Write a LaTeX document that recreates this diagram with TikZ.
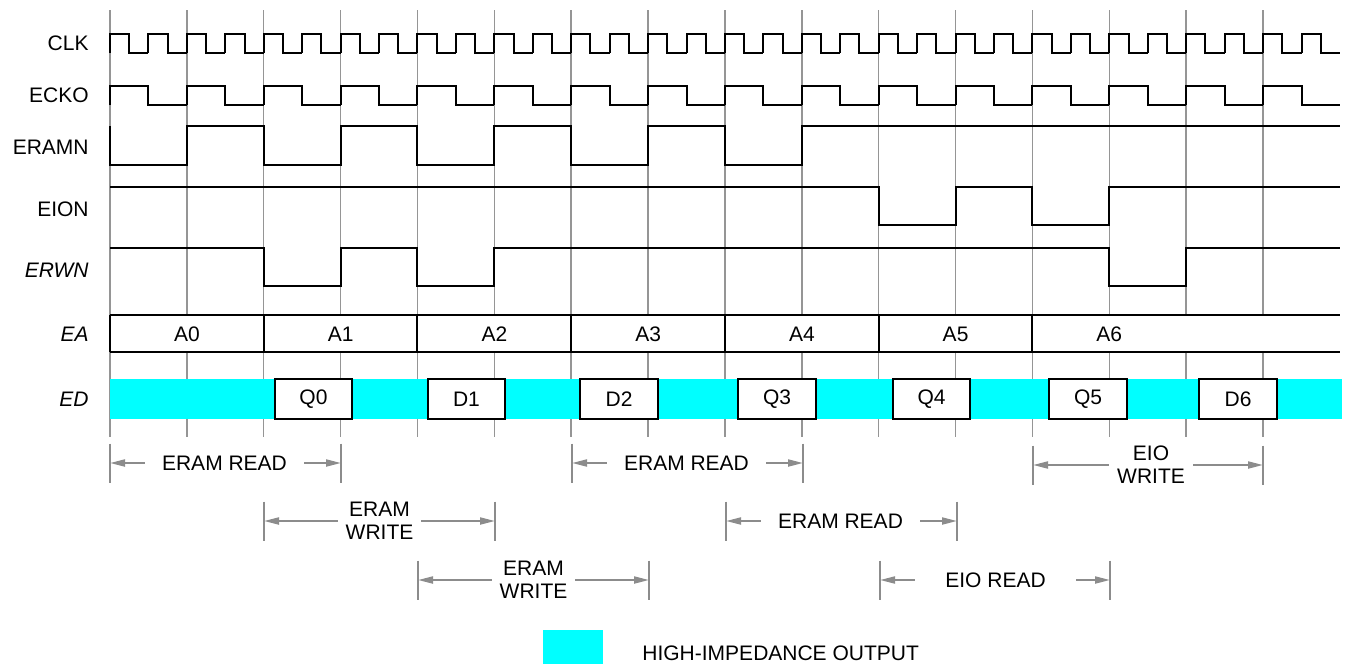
\documentclass[tikz,border=0pt]{standalone}
\usepackage{fontspec}
\setmainfont{Liberation Sans}
\usetikzlibrary{arrows.meta}
\definecolor{HiZCyan}{HTML}{00FFFF}
\definecolor{GridGray}{HTML}{959595}
\definecolor{DimGray}{HTML}{8C8C8C}
\tikzset{
    % Signal styles
    sig/.style={
        draw=black,
        line width=1pt
    },
    gridline/.style={
        draw=GridGray,
        line width=0.75pt
    },
    siglabel/.style={
        anchor=east,
        inner sep=0pt,
        font=\fontsize{10.5}{12}\selectfont
    },
    buslabel/.style={
        inner sep=0pt,
        font=\fontsize{10.5}{12}\selectfont
    },
    databox/.style={
        rectangle,
        draw=black,
        fill=white,
        line width=0.8pt,
        minimum width=38.75pt,
        minimum height=19.75pt,
        inner sep=0pt,
        font=\fontsize{10.5}{12}\selectfont
    },
    hizbox/.style={
        rectangle,
        fill=HiZCyan,
        minimum width=30pt,
        minimum height=17pt,
        inner sep=0pt
    },
    % Dimension styles
    dimtext/.style={
        inner ysep=0pt,
        align=center,
        font=\fontsize{10.5}{11.5}\selectfont
    },
    dimarrow/.style={
        -{Triangle[length=7.5pt,width=3.5pt]},
        draw=DimGray,
        line width=1pt
    },
    dimtick/.style={
        draw=DimGray,
        line width=1pt
    }
}
\begin{document}
\begin{tikzpicture}[x=0.5pt,y=-0.5pt]
    \useasboundingbox (0,0) rectangle (1347,664);

    % Signal names
    \node[siglabel] (clk) at (89,43) {CLK};
    \node[siglabel] (ecko) at (89,95) {ECKO};
    \node[siglabel] (eramn) at (89,147) {ERAMN};
    \node[siglabel] (eion) at (89,209) {EION};
    \node[siglabel] (erwn) at (89,270) {\itshape ERWN};
    \node[siglabel] (ea) at (89,334) {\itshape EA};
    \node[siglabel] (ed) at (89,399) {\itshape ED};

    % Waveforms, one x unit per ECKO cycle
    \begin{scope}[shift={(110,0)},x=38.435pt]
        \foreach \k in {0,...,15}
            \draw[gridline] (\k,10) -- (\k,437);

        % Clocks
        \foreach \k in {0,0.5,...,15.5}
            \draw[sig] (\k,53) -- (\k,34) -- (\k+0.25,34) -- (\k+0.25,53) -- (\k+0.5,53);
        \foreach \k in {0,...,15}
            \draw[sig] (\k,105) -- (\k,86) -- (\k+0.5,86) -- (\k+0.5,105) -- (\k+1,105);

        % Strobes
        \draw[sig] (0,126) -- (0,165) -- (1,165) -- (1,126) -- (2,126) -- (2,165) -- (3,165) -- (3,126)
            -- (4,126) -- (4,165) -- (5,165) -- (5,126) -- (6,126) -- (6,165) -- (7,165) -- (7,126)
            -- (8,126) -- (8,165) -- (9,165) -- (9,126) -- (16,126);
        \draw[sig] (0,187) -- (10,187) -- (10,225) -- (11,225) -- (11,187) -- (12,187) -- (12,225)
            -- (13,225) -- (13,187) -- (16,187);
        \draw[sig] (0,248) -- (2,248) -- (2,286) -- (3,286) -- (3,248) -- (4,248) -- (4,286)
            -- (5,286) -- (5,248) -- (13,248) -- (13,286) -- (14,286) -- (14,248) -- (16,248);

        % Address bus
        \fill[white] (0,315) rectangle (16,352);
        \draw[sig] (0,315) -- (16,315) (0,352) -- (16,352);
        \foreach \k in {0,2,...,12}
            \draw[sig] (\k,315) -- (\k,352);
        \foreach \k/\a in {1/A0,3/A1,5/A2,7/A3,9/A4,11/A5,13/A6}
            \node[buslabel] (ea\a) at (\k,334) {\a};

        % Data bus
        \fill[HiZCyan] (0,379) rectangle (16.03,418.5);
    \end{scope}

    \node[databox] (q0) at (313.5,399) {Q0};
    \node[databox] (d1) at (466.5,399) {D1};
    \node[databox] (d2) at (619,399) {D2};
    \node[databox] (q3) at (777,399) {Q3};
    \node[databox] (q4) at (931.5,399) {Q4};
    \node[databox] (q5) at (1088,399) {Q5};
    \node[databox] (d6) at (1238,399) {D6};

    % Cycles
    \foreach \nm/\xa/\xb/\yy/\xc/\gap/\txt in {
        rda/110/341/463/224.5/8.5/{ERAM READ},
        rdb/572/803/463/686.5/8.5/{ERAM READ},
        eiow/1033/1263/465/1151/4/{EIO\\WRITE},
        wra/264/495/521/379.5/3.8/{ERAM\\WRITE},
        rdc/726/957/521/840.5/8.5/{ERAM READ},
        wrb/418/649/580/533.5/3.8/{ERAM\\WRITE},
        eior/880/1110/580/995.5/15/{EIO READ}}
    {
        \node[dimtext,inner xsep=\gap pt] (\nm) at (\xc,\yy) {\txt};
        \coordinate (\nm-l) at (\xa,\yy);
        \coordinate (\nm-r) at (\xb,\yy);
        \draw[dimtick] (\xa,\yy-19.5) -- (\xa,\yy+19.5);
        \draw[dimtick] (\xb,\yy-19.5) -- (\xb,\yy+19.5);
        \draw[dimarrow] (\nm) -- (\nm-l);
        \draw[dimarrow] (\nm) -- (\nm-r);
    }

    % Legend
    \node[hizbox] (hizkey) at (573,647) {};
    \node[buslabel,anchor=west] (hiztext) at (642,653) {HIGH-IMPEDANCE OUTPUT};
\end{tikzpicture}
\end{document}
